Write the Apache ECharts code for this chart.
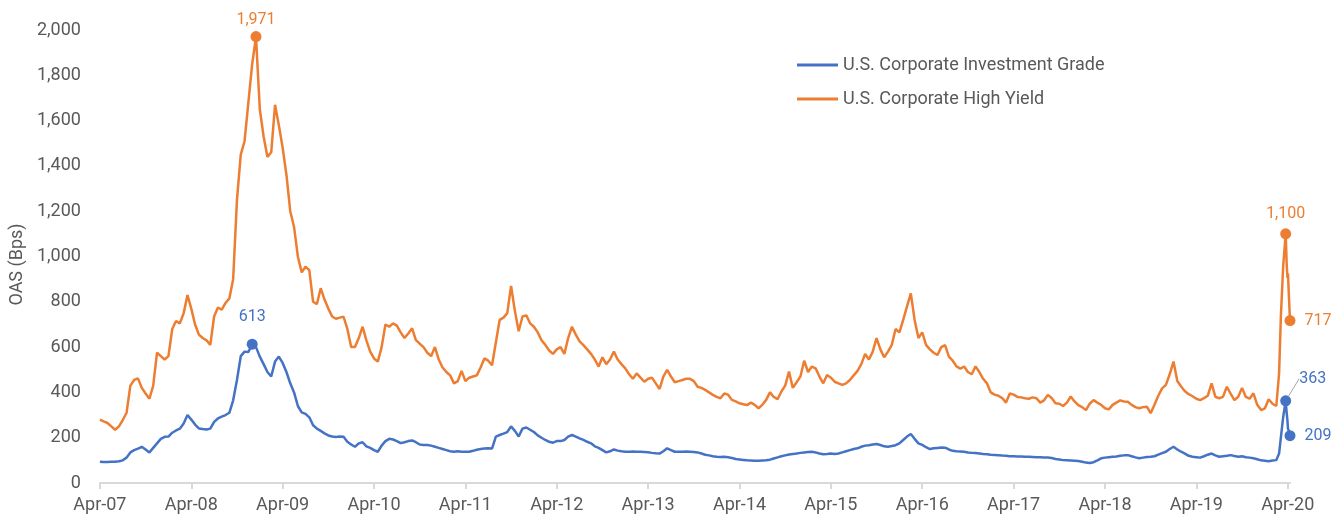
<!DOCTYPE html>
<html>
<head>
<meta charset="utf-8">
<script src="https://cdn.jsdelivr.net/npm/echarts@6/dist/echarts.min.js"></script>
<style>
html,body{margin:0;padding:0;background:#ffffff;}
#chart{width:1342px;height:517px;}
</style>
</head>
<body>
<div id="chart"></div>
<script>
// ---------- DATA ----------
const seriesNames = ['U.S. Corporate Investment Grade', 'U.S. Corporate High Yield'];
const xTickLabels = ['Apr-07','Apr-08','Apr-09','Apr-10','Apr-11','Apr-12','Apr-13','Apr-14','Apr-15','Apr-16','Apr-17','Apr-18','Apr-19','Apr-20'];
const yAxisName = 'OAS (Bps)';

// semi-monthly observations starting Apr 2007 (one row = one year, Apr..Mar)
const igMain = [].concat(
  [94,93,93,94,94,96,100,112,135,145,152,160,148,135,155,175,195,204,205,222,232,240,263,300],
  [280,258,241,238,236,240,270,285,293,300,310,365,455,560,580,578,613,600,558,525,490,470,536,558],
  [530,490,440,400,340,312,305,290,255,240,230,219,210,205,203,205,204,182,170,160,175,180,162,155],
  [145,138,165,185,195,192,185,176,180,185,188,180,170,168,168,165,160,155,150,145,140,138,140,138],
  [138,138,142,147,150,152,153,152,205,212,218,225,250,230,205,240,245,235,225,210,200,190,182,178],
  [185,185,190,205,212,205,197,190,182,175,162,155,145,135,140,148,143,140,138,138,139,138,138,137],
  [136,133,131,130,140,153,145,138,138,138,139,138,137,135,130,125,122,118,116,115,116,114,110,106],
  [104,102,100,99,98,98,99,100,103,108,113,118,122,126,128,130,133,135,137,138,135,130,127,128],
  [130,128,130,135,140,145,150,153,160,165,167,170,172,168,162,160,163,167,175,190,205,216,195,175],
  [168,158,150,153,155,157,156,148,142,140,139,138,135,133,132,130,128,127,125,124,123,121,120,118],
  [118,117,117,116,116,115,114,114,113,113,110,106,104,101,100,99,98,97,94,90,88,92,100,109],
  [112,114,116,117,120,122,123,118,113,109,112,115,116,118,125,132,138,150,160,148,138,130,120,116],
  [114,112,118,125,130,122,116,118,120,123,119,116,118,114,112,109,105,100,98,96,99,101]
);
const hyMain = [].concat(
  [280,272,265,250,235,250,278,310,430,455,462,420,395,372,430,575,560,545,560,680,715,705,750,830],
  [770,700,655,640,630,610,735,775,765,795,815,900,1250,1450,1510,1680,1850,1971,1650,1530,1440,1460,1670,1580],
  [1480,1360,1200,1130,1000,930,955,940,800,790,860,810,770,735,725,730,734,680,600,600,640,690,630,580],
  [550,536,600,700,690,705,695,665,640,660,683,631,615,600,575,560,600,545,510,490,475,440,450,495],
  [450,465,470,475,510,550,540,520,620,720,730,750,870,760,670,735,740,705,690,665,630,610,585,570],
  [590,600,570,640,690,655,625,609,590,570,545,514,555,525,545,580,545,525,506,480,460,484,465,447],
  [460,465,440,415,470,500,470,445,450,455,460,460,450,425,420,411,400,389,380,374,395,390,367,360],
  [352,348,344,355,345,330,345,367,400,380,370,404,430,492,420,445,470,540,490,514,506,470,440,477],
  [465,447,440,433,440,455,475,495,525,570,545,580,640,590,555,580,610,680,665,720,780,837,720,640],
  [665,610,590,575,565,600,609,558,540,515,505,514,490,480,515,490,460,440,400,390,385,375,355,395],
  [390,380,378,374,372,378,374,355,365,389,375,352,350,340,355,382,360,344,335,322,350,366,355,345],
  [330,325,345,355,365,360,359,345,335,330,335,337,308,345,385,418,433,480,536,450,426,405,392,383],
  [372,366,375,385,440,380,374,380,425,395,366,381,420,380,372,396,345,322,330,370,350,340]
);
// Feb-Apr 2020 spike, dated observations
const tailDates = ['2020-02-22','2020-02-27','2020-03-04','2020-03-13','2020-03-23','2020-03-27','2020-03-30','2020-04-02','2020-04-07','2020-04-10'];
const igTail = [100,130,200,290,363,308,275,240,225,209];
const hyTail = [345,484,734,955,1100,965,905,925,790,717];

// ---------- BUILD ----------
const BLUE = '#4472C4', ORANGE = '#ED7D31', GREY = '#595959', FONT = 'Roboto, "Noto Sans", sans-serif';
function monthsFromStart(s){ const p = s.split('-').map(Number); return (p[0]-2007)*12 + (p[1]-4) + (p[2]-1)/30; }
function build(main, tail){
  const pts = main.map((v,i) => ({ value: [i/2, v] }));
  tailDates.forEach((d,j) => pts.push({ value: [monthsFromStart(d), tail[j]] }));
  return pts;
}
function argmax(pts, from){ let b = from; for (let i = from; i < pts.length; i++) if (pts[i].value[1] > pts[b].value[1]) b = i; return b; }
function mark(pts, idx, color, label, extra){
  Object.assign(pts[idx], {
    symbol: 'circle', symbolSize: 11,
    label: Object.assign({ show: true, color: color, fontSize: 16, fontFamily: FONT,
      formatter: p => p.value[1].toLocaleString('en-US') }, label)
  }, extra || {});
}
const igData = build(igMain, igTail);
const hyData = build(hyMain, hyTail);
const tailStart = igMain.length;
mark(hyData, argmax(hyData, 0), ORANGE, { position: 'top', distance: 3 });
mark(hyData, argmax(hyData, tailStart), ORANGE, { position: 'top', distance: 6 });
mark(hyData, hyData.length - 1, ORANGE, { position: 'right', distance: 9 });
mark(igData, argmax(igData, 0), BLUE, { position: 'top', distance: 14 });
const ig363 = argmax(igData, tailStart);
mark(igData, ig363, BLUE, { position: 'right', distance: 8 }, { labelLine: { show: true, lineStyle: { color: '#a6a6a6', width: 1 } } });
mark(igData, igData.length - 1, BLUE, { position: 'right', distance: 9 });
const lastM = igData[igData.length - 1].value[0];

const chart = echarts.init(document.getElementById('chart'), null, { renderer: 'canvas' });
chart.setOption({
  animation: false,
  backgroundColor: '#ffffff',
  grid: { left: 94, right: 52, top: 30, bottom: 34, containLabel: false },
  legend: {
    data: seriesNames, orient: 'vertical', left: 792, top: 51,
    icon: 'rect', itemWidth: 41, itemHeight: 3, itemGap: 16,
    textStyle: { color: GREY, fontSize: 18, fontFamily: FONT }
  },
  xAxis: {
    type: 'value', min: 0, max: lastM,
    axisLine: { show: true, lineStyle: { color: '#d9d9d9', width: 2 } },
    axisTick: { show: true, length: 6, lineStyle: { color: '#d9d9d9', width: 2 }, customValues: xTickLabels.map((_, i) => i * 12) },
    axisLabel: { customValues: xTickLabels.map((_, i) => i * 12), formatter: v => xTickLabels[Math.round(v / 12)] || '',
      color: GREY, fontSize: 18, fontFamily: FONT, margin: 13 },
    splitLine: { show: false }
  },
  yAxis: {
    type: 'value', min: 0, max: 2000, interval: 200,
    name: yAxisName, nameLocation: 'middle', nameGap: 66,
    nameTextStyle: { color: GREY, fontSize: 18, fontFamily: FONT, padding: [0, 16, 0, 0] },
    axisLine: { show: false }, axisTick: { show: false }, splitLine: { show: false },
    axisLabel: { color: GREY, fontSize: 18, fontFamily: FONT, margin: 19, formatter: v => v.toLocaleString('en-US') }
  },
  series: [
    { name: seriesNames[1], type: 'line', data: hyData, symbol: 'none', showSymbol: true, color: ORANGE,
      lineStyle: { color: ORANGE, width: 2.5 }, itemStyle: { color: ORANGE }, z: 2 },
    { name: seriesNames[0], type: 'line', data: igData, symbol: 'none', showSymbol: true, color: BLUE,
      lineStyle: { color: BLUE, width: 2.5 }, itemStyle: { color: BLUE }, z: 3,
      labelLayout: p => (p.dataIndex === ig363 ? { dx: 0, dy: -22 } : {}) }
  ]
});
</script>
</body>
</html>
